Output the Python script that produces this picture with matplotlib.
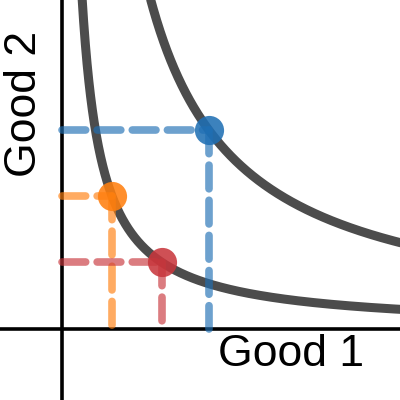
import numpy as np
import matplotlib
matplotlib.use("Agg")
import matplotlib.pyplot as plt

plt.rcParams['font.family'] = ['Liberation Sans', 'DejaVu Sans']

# utility levels of the two indifference curves (x * y = k)
levels = [2.66, 11.68]

# bundles: (good 1, good 2)
bundle_names = ['blue', 'orange', 'red']
good1 = [2.93, 1.0, 1.99]
good2 = [3.99, 2.66, 1.34]
colors = ['#1f6fb4', '#ff7f0e', '#c8363c']

fig = plt.figure(figsize=(4, 4), dpi=100)
ax = fig.add_axes([0, 0, 1, 1])
ax.set_xlim(-1.24, 6.76)
ax.set_ylim(-1.42, 6.58)
ax.axis('off')

ax.axhline(0, color='black', lw=2.6, zorder=1)
ax.axvline(0, color='black', lw=2.6, zorder=1)

x = np.linspace(0.05, 7, 800)
for k in levels:
    ax.plot(x, k / x, color='#333333', lw=6.5, alpha=0.88, zorder=2,
            solid_capstyle='butt')

for gx, gy, c in zip(good1, good2, colors):
    ax.plot([0, gx], [gy, gy], color=c, lw=5.5, alpha=0.65,
            dashes=(3.1, 1.5), dash_capstyle='round', zorder=3)
    ax.plot([gx, gx], [gy, 0], color=c, lw=5.5, alpha=0.65,
            dashes=(3.1, 1.5), dash_capstyle='round', zorder=3)
    ax.plot(gx, gy, 'o', color=c, ms=21, alpha=0.87, mec='none', zorder=4)

ax.text(4.58, -0.52, 'Good 1', fontsize=32, ha='center', va='center')
ax.text(-0.74, 4.5, 'Good 2', fontsize=32, ha='center', va='center',
        rotation=90)

fig.savefig('out.png', dpi=100)
